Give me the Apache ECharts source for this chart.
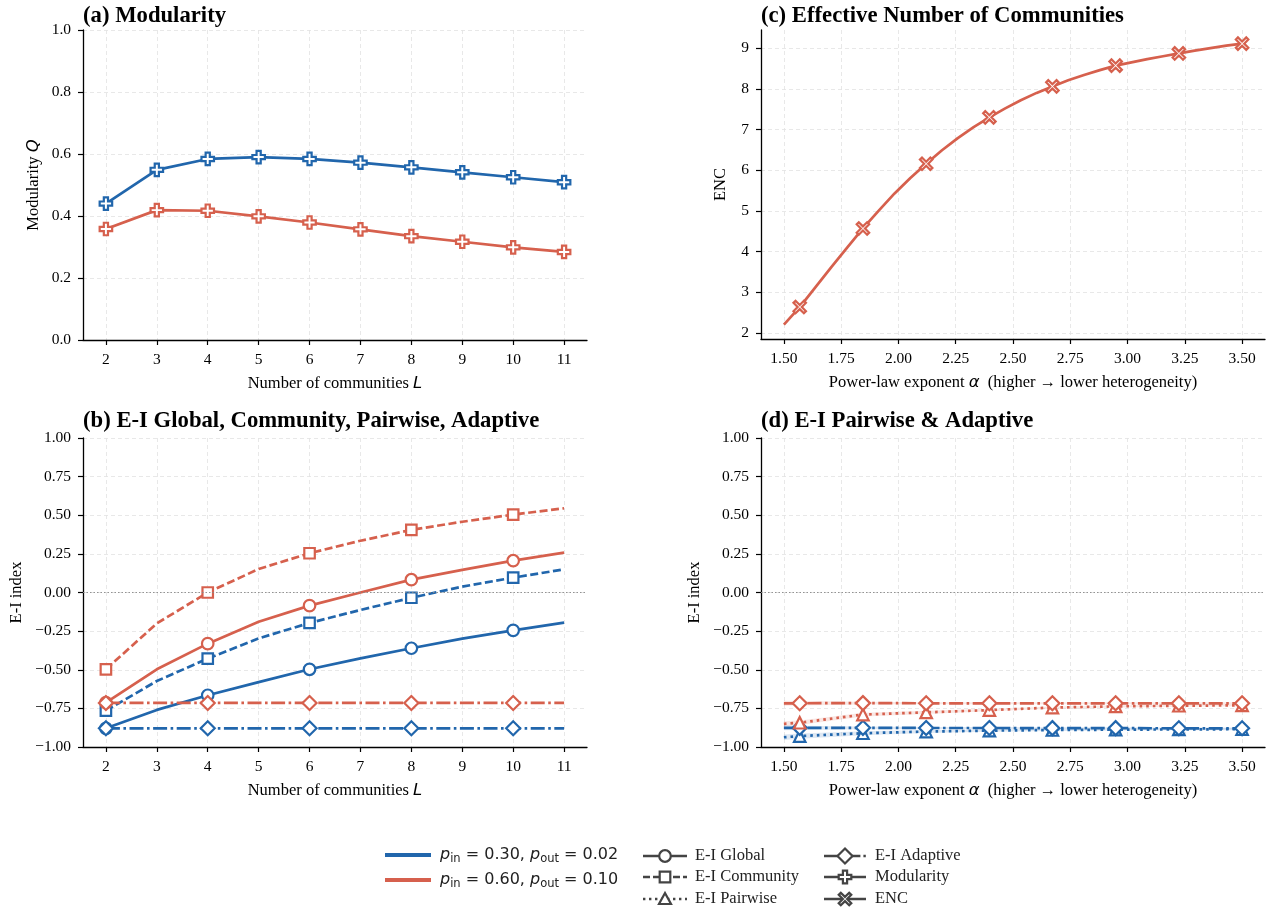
<!DOCTYPE html>
<html>
<head>
<meta charset="utf-8">
<script src="https://cdn.jsdelivr.net/npm/echarts@6/dist/echarts.min.js"></script>
<style>
  html, body { margin: 0; padding: 0; background: #fff; }
  #chart { width: 1276px; height: 912px; }
</style>
</head>
<body>
<div id="chart"></div>
<script>
// ---- data ----
const L = [2, 3, 4, 5, 6, 7, 8, 9, 10, 11]
const xTicksL = [2, 3, 4, 5, 6, 7, 8, 9, 10, 11]
const xTicksAlpha = [1.5, 1.75, 2.0, 2.25, 2.5, 2.75, 3.0, 3.25, 3.5]
const yTicksEnc = [2, 3, 4, 5, 6, 7, 8, 9]

// (a) modularity
const modBlue = [0.440, 0.549, 0.584, 0.590, 0.584, 0.572, 0.557, 0.541, 0.525, 0.509]
const modRed = [0.358, 0.419, 0.417, 0.399, 0.379, 0.357, 0.335, 0.317, 0.299, 0.284]

// (b) E-I indices vs L
const globalBlue = [-0.879, -0.760, -0.665, -0.580, -0.497, -0.426, -0.361, -0.299, -0.245, -0.195]
const globalRed = [-0.713, -0.497, -0.331, -0.189, -0.085, 0.000, 0.083, 0.146, 0.206, 0.258]
const commBlue = [-0.765, -0.573, -0.428, -0.297, -0.197, -0.113, -0.034, 0.038, 0.096, 0.150]
const commRed = [-0.497, -0.200, 0.000, 0.152, 0.254, 0.335, 0.405, 0.458, 0.504, 0.545]
const adaptBlue = [-0.879, -0.879, -0.879, -0.879, -0.879, -0.879, -0.879, -0.879, -0.879, -0.879]
const adaptRed = [-0.715, -0.715, -0.715, -0.715, -0.715, -0.715, -0.715, -0.715, -0.715, -0.715]

// (c) ENC vs alpha
const alphaFine = [1.500, 1.569, 1.638, 1.707, 1.776, 1.845, 1.914, 1.983, 2.052, 2.121,
  2.190, 2.259, 2.328, 2.397, 2.466, 2.534, 2.603, 2.672, 2.741, 2.810,
  2.879, 2.948, 3.017, 3.086, 3.155, 3.224, 3.293, 3.362, 3.431, 3.500]
const enc = [2.21, 2.64, 3.13, 3.62, 4.10, 4.57, 5.01, 5.43, 5.81, 6.16,
  6.49, 6.79, 7.06, 7.30, 7.52, 7.72, 7.90, 8.06, 8.21, 8.34,
  8.46, 8.57, 8.65, 8.73, 8.80, 8.87, 8.94, 9.00, 9.06, 9.11]

// (d) E-I pairwise & adaptive vs alpha
const alphaD = [1.500, 1.569, 1.845, 2.121, 2.397, 2.672, 2.948, 3.224, 3.500]
const adaptBlueD = [-0.876, -0.876, -0.876, -0.877, -0.877, -0.878, -0.878, -0.879, -0.879]
const pairBlueD = [-0.937, -0.929, -0.911, -0.900, -0.894, -0.890, -0.888, -0.886, -0.885]
const adaptRedD = [-0.717, -0.717, -0.716, -0.717, -0.717, -0.717, -0.717, -0.717, -0.717]
const pairRedD = [-0.850, -0.843, -0.790, -0.776, -0.761, -0.745, -0.737, -0.733, -0.730]
// (d) shaded spread around each line (lower / upper edge)
const adaptBlueLo = [-0.892, -0.890, -0.885, -0.884, -0.884, -0.884, -0.884, -0.885, -0.885]
const adaptBlueHi = [-0.860, -0.862, -0.867, -0.870, -0.871, -0.872, -0.872, -0.873, -0.873]
const pairBlueLo = [-0.955, -0.946, -0.924, -0.910, -0.902, -0.897, -0.894, -0.892, -0.891]
const pairBlueHi = [-0.919, -0.912, -0.898, -0.890, -0.886, -0.883, -0.882, -0.880, -0.879]
const adaptRedLo = [-0.733, -0.731, -0.725, -0.724, -0.723, -0.723, -0.723, -0.723, -0.723]
const adaptRedHi = [-0.701, -0.703, -0.707, -0.710, -0.711, -0.711, -0.711, -0.711, -0.711]
const pairRedLo = [-0.866, -0.858, -0.802, -0.786, -0.769, -0.752, -0.744, -0.739, -0.736]
const pairRedHi = [-0.834, -0.828, -0.778, -0.766, -0.753, -0.738, -0.730, -0.727, -0.724]

// ---- styles ----
const BLUE = '#2166ac'
const RED = '#d6604d'
const GRAY = '#444444'
const SERIF = "'Liberation Serif', 'Times New Roman', serif"
const SANS = "'DejaVu Sans', sans-serif"
const DASH = [8, 3.5]
const DASHDOT = [14, 3.5, 2.6, 3.5]
const DOT = [2.6, 4]
const PLUS = 'path://M-1,-3L1,-3L1,-1L3,-1L3,1L1,1L1,3L-1,3L-1,1L-3,1L-3,-1L-1,-1Z'
const CROSS = 'path://M-3,-2L-2,-3L0,-1L2,-3L3,-2L1,0L3,2L2,3L0,1L-2,3L-3,2L-1,0Z'

const fmtMinus = (d) => (v) => (v < 0 ? '\u2212' : '') + Math.abs(v).toFixed(d)

const lineSeries = (idx, xs, ys, color, dash, sym, size, marked) => ({
  type: 'line',
  xAxisIndex: idx,
  yAxisIndex: idx,
  data: xs.map((x, i) => ({ value: [x, ys[i]], symbol: marked(i) ? sym : 'none' })),
  symbolSize: size,
  showAllSymbol: true,
  lineStyle: { color: color, width: 2.7, type: dash },
  itemStyle: { color: '#fff', borderColor: color, borderWidth: 2.2 },
  emphasis: { disabled: true },
  silent: true,
  animation: false,
  z: 3
})

// light band between two read edges, placed with the axis scales
const bandSeries = (idx, xs, lo, hi, color) => ({
  type: 'custom',
  xAxisIndex: idx,
  yAxisIndex: idx,
  data: [0],
  silent: true,
  z: 2,
  renderItem: (params, api) => {
    const pts = xs.map((x, i) => api.coord([x, hi[i]]))
    for (let i = xs.length - 1; i >= 0; i--) pts.push(api.coord([xs[i], lo[i]]))
    return { type: 'polygon', shape: { points: pts }, style: { fill: color, opacity: 0.15 } }
  }
})

const evenL = (i) => i % 2 === 0
const everyFour = (i) => i % 4 === 1
const notFirst = (i) => i > 0

const gridLine = { show: true, lineStyle: { color: '#e2e2e2', type: [4, 3], width: 0.8 } }
const axisLineStyle = { show: true, onZero: false, lineStyle: { color: '#000', width: 1.3 } }
const tickStyle = { color: '#000', width: 1.2 }
const labelStyle = { color: '#000', fontFamily: SERIF, fontSize: 15.5 }
const nameStyle = {
  color: '#000', fontFamily: SERIF, fontSize: 16.5,
  rich: { i: { fontFamily: SANS, fontStyle: 'italic', fontSize: 16.5, color: '#000' } }
}

const xAxisFor = (idx, min, max, ticks, fmt, name) => ({
  type: 'value', gridIndex: idx, min: min, max: max,
  axisLine: axisLineStyle,
  axisTick: { show: true, length: 5, customValues: ticks, lineStyle: tickStyle },
  axisLabel: Object.assign({ customValues: ticks, formatter: fmt, margin: 12 }, labelStyle),
  splitLine: gridLine,
  name: name, nameLocation: 'middle', nameGap: 35, nameTextStyle: nameStyle
})

const yAxisFor = (idx, min, max, extra, name, gap) => Object.assign({
  type: 'value', gridIndex: idx, min: min, max: max,
  axisLine: axisLineStyle,
  splitLine: gridLine,
  name: name, nameLocation: 'middle', nameGap: gap, nameTextStyle: nameStyle
}, extra)

const zeroLine = {
  silent: true, symbol: ['none', 'none'], label: { show: false },
  lineStyle: { color: '#888', type: [1.5, 2], width: 0.9 },
  data: [{ yAxis: 0 }]
}

const titleStyle = { fontFamily: SERIF, fontWeight: 'bold', fontSize: 22.7, color: '#000' }

const option = {
  backgroundColor: '#fff',
  animation: false,
  title: [
    { text: '(a) Modularity', left: 83, top: 5, padding: 0, textStyle: titleStyle },
    { text: '(b) E-I Global, Community, Pairwise, Adaptive', left: 83, top: 410, padding: 0, textStyle: titleStyle },
    { text: '(c) Effective Number of Communities', left: 761, top: 5, padding: 0, textStyle: titleStyle },
    { text: '(d) E-I Pairwise & Adaptive', left: 761, top: 410, padding: 0, textStyle: titleStyle }
  ],
  grid: [
    { left: 83, top: 30, width: 504, height: 310 },
    { left: 83, top: 438, width: 504, height: 309 },
    { left: 761, top: 30, width: 504, height: 309 },
    { left: 761, top: 438, width: 504, height: 309 }
  ],
  xAxis: [
    xAxisFor(0, 1.55, 11.45, xTicksL, (v) => String(v), 'Number of communities {i|L}'),
    xAxisFor(1, 1.55, 11.45, xTicksL, (v) => String(v), 'Number of communities {i|L}'),
    xAxisFor(2, 1.4, 3.6, xTicksAlpha, (v) => v.toFixed(2), 'Power-law exponent {i|α}  (higher \u2192 lower heterogeneity)'),
    xAxisFor(3, 1.4, 3.6, xTicksAlpha, (v) => v.toFixed(2), 'Power-law exponent {i|α}  (higher \u2192 lower heterogeneity)')
  ],
  yAxis: [
    yAxisFor(0, 0, 1, {
      interval: 0.2,
      axisTick: { show: true, length: 5, lineStyle: tickStyle },
      axisLabel: Object.assign({ formatter: fmtMinus(1), margin: 12 }, labelStyle)
    }, 'Modularity {i|Q}', 41),
    yAxisFor(1, -1, 1, {
      interval: 0.25,
      axisTick: { show: true, length: 5, lineStyle: tickStyle },
      axisLabel: Object.assign({ formatter: fmtMinus(2), margin: 12 }, labelStyle)
    }, 'E-I index', 58),
    yAxisFor(2, 1.855, 9.445, {
      axisTick: { show: true, length: 5, customValues: yTicksEnc, lineStyle: tickStyle },
      axisLabel: Object.assign({ customValues: yTicksEnc, formatter: (v) => String(v), margin: 12 }, labelStyle)
    }, 'ENC', 32),
    yAxisFor(3, -1, 1, {
      interval: 0.25,
      axisTick: { show: true, length: 5, lineStyle: tickStyle },
      axisLabel: Object.assign({ formatter: fmtMinus(2), margin: 12 }, labelStyle)
    }, 'E-I index', 58)
  ],
  series: [
    // (a)
    lineSeries(0, L, modBlue, BLUE, 'solid', PLUS, 12.5, () => true),
    lineSeries(0, L, modRed, RED, 'solid', PLUS, 12.5, () => true),
    // (b)
    Object.assign(lineSeries(1, L, globalBlue, BLUE, 'solid', 'circle', 11.5, evenL), { markLine: zeroLine }),
    lineSeries(1, L, commBlue, BLUE, DASH, 'rect', 10.5, evenL),
    lineSeries(1, L, adaptBlue, BLUE, DASHDOT, 'diamond', 14, evenL),
    lineSeries(1, L, globalRed, RED, 'solid', 'circle', 11.5, evenL),
    lineSeries(1, L, commRed, RED, DASH, 'rect', 10.5, evenL),
    lineSeries(1, L, adaptRed, RED, DASHDOT, 'diamond', 14, evenL),
    // (c)
    lineSeries(2, alphaFine, enc, RED, 'solid', CROSS, 12.5, everyFour),
    // (d)
    bandSeries(3, alphaD, pairBlueLo, pairBlueHi, BLUE),
    bandSeries(3, alphaD, adaptBlueLo, adaptBlueHi, BLUE),
    bandSeries(3, alphaD, pairRedLo, pairRedHi, RED),
    bandSeries(3, alphaD, adaptRedLo, adaptRedHi, RED),
    Object.assign(lineSeries(3, alphaD, pairBlueD, BLUE, DOT, 'triangle', 11.5, notFirst), { markLine: zeroLine }),
    lineSeries(3, alphaD, adaptBlueD, BLUE, DASHDOT, 'diamond', 14, notFirst),
    lineSeries(3, alphaD, pairRedD, RED, DOT, 'triangle', 11.5, notFirst),
    lineSeries(3, alphaD, adaptRedD, RED, DASHDOT, 'diamond', 14, notFirst)
  ]
}

// ---- legend (drawn as graphic elements) ----
const legendEls = []
const legText = (x, y, text, extra) => legendEls.push({
  type: 'text', x: x, y: y,
  style: Object.assign({ text: text, fill: '#222', font: '16.5px ' + SERIF, verticalAlign: 'middle', align: 'left' }, extra || {})
})
const legLine = (x1, x2, y, color, width, dash) => legendEls.push({
  type: 'line', shape: { x1: x1, y1: y, x2: x2, y2: y },
  style: { stroke: color, lineWidth: width, lineDash: dash || null }
})
const pMark = (cx, cy, kind) => {
  const st = { fill: '#fff', stroke: GRAY, lineWidth: 2.2 }
  if (kind === 'circle') legendEls.push({ type: 'circle', shape: { cx: cx, cy: cy, r: 5.8 }, style: st })
  if (kind === 'rect') legendEls.push({ type: 'rect', shape: { x: cx - 5.3, y: cy - 5.3, width: 10.6, height: 10.6 }, style: st })
  if (kind === 'triangle') legendEls.push({ type: 'polygon', shape: { points: [[cx, cy - 6], [cx + 6, cy + 5], [cx - 6, cy + 5]] }, style: st })
  if (kind === 'diamond') legendEls.push({ type: 'polygon', shape: { points: [[cx, cy - 7.5], [cx + 7.5, cy], [cx, cy + 7.5], [cx - 7.5, cy]] }, style: st })
  if (kind === 'plus') {
    const s = 2.1
    legendEls.push({ type: 'polygon', shape: { points: [[-1, -3], [1, -3], [1, -1], [3, -1], [3, 1], [1, 1], [1, 3], [-1, 3], [-1, 1], [-3, 1], [-3, -1], [-1, -1]].map((p) => [cx + p[0] * s, cy + p[1] * s]) }, style: st })
  }
  if (kind === 'cross') {
    const s = 2.1
    legendEls.push({ type: 'polygon', shape: { points: [[-3, -2], [-2, -3], [0, -1], [2, -3], [3, -2], [1, 0], [3, 2], [2, 3], [0, 1], [-2, 3], [-3, 2], [-1, 0]].map((p) => [cx + p[0] * s, cy + p[1] * s]) }, style: st })
  }
}

const pRich = {
  t: { fontFamily: SANS, fontSize: 16, color: '#222' },
  p: { fontFamily: SANS, fontSize: 16, fontStyle: 'italic', color: '#222' },
  s: { fontFamily: SANS, fontSize: 11.5, color: '#222', padding: [9, 0, 0, 0] }
}
legLine(385, 431, 855, BLUE, 4)
legText(440, 855, '{p|p}{s|in}{t| = 0.30, }{p|p}{s|out}{t| = 0.02}', { rich: pRich, font: '16px ' + SANS })
legLine(385, 431, 880, RED, 4)
legText(440, 880, '{p|p}{s|in}{t| = 0.60, }{p|p}{s|out}{t| = 0.10}', { rich: pRich, font: '16px ' + SANS })

const col2 = [
  { y: 856, dash: null, mk: 'circle', label: 'E-I Global' },
  { y: 877, dash: [7, 3], mk: 'rect', label: 'E-I Community' },
  { y: 899, dash: [2.4, 3.6], mk: 'triangle', label: 'E-I Pairwise' }
]
col2.forEach((e) => {
  legLine(643, 687, e.y, GRAY, 2.6, e.dash)
  pMark(665, e.y, e.mk)
  legText(695, e.y, e.label)
})
const col3 = [
  { y: 856, dash: [14, 3, 2.4, 3], mk: 'diamond', label: 'E-I Adaptive' },
  { y: 877, dash: null, mk: 'plus', label: 'Modularity' },
  { y: 899, dash: null, mk: 'cross', label: 'ENC' }
]
col3.forEach((e) => {
  legLine(824, 866, e.y, GRAY, 2.6, e.dash)
  pMark(845, e.y, e.mk)
  legText(875, e.y, e.label)
})
option.graphic = { elements: legendEls }

const chart = echarts.init(document.getElementById('chart'), null, { renderer: 'canvas' })
chart.setOption(option)
</script>
</body>
</html>
